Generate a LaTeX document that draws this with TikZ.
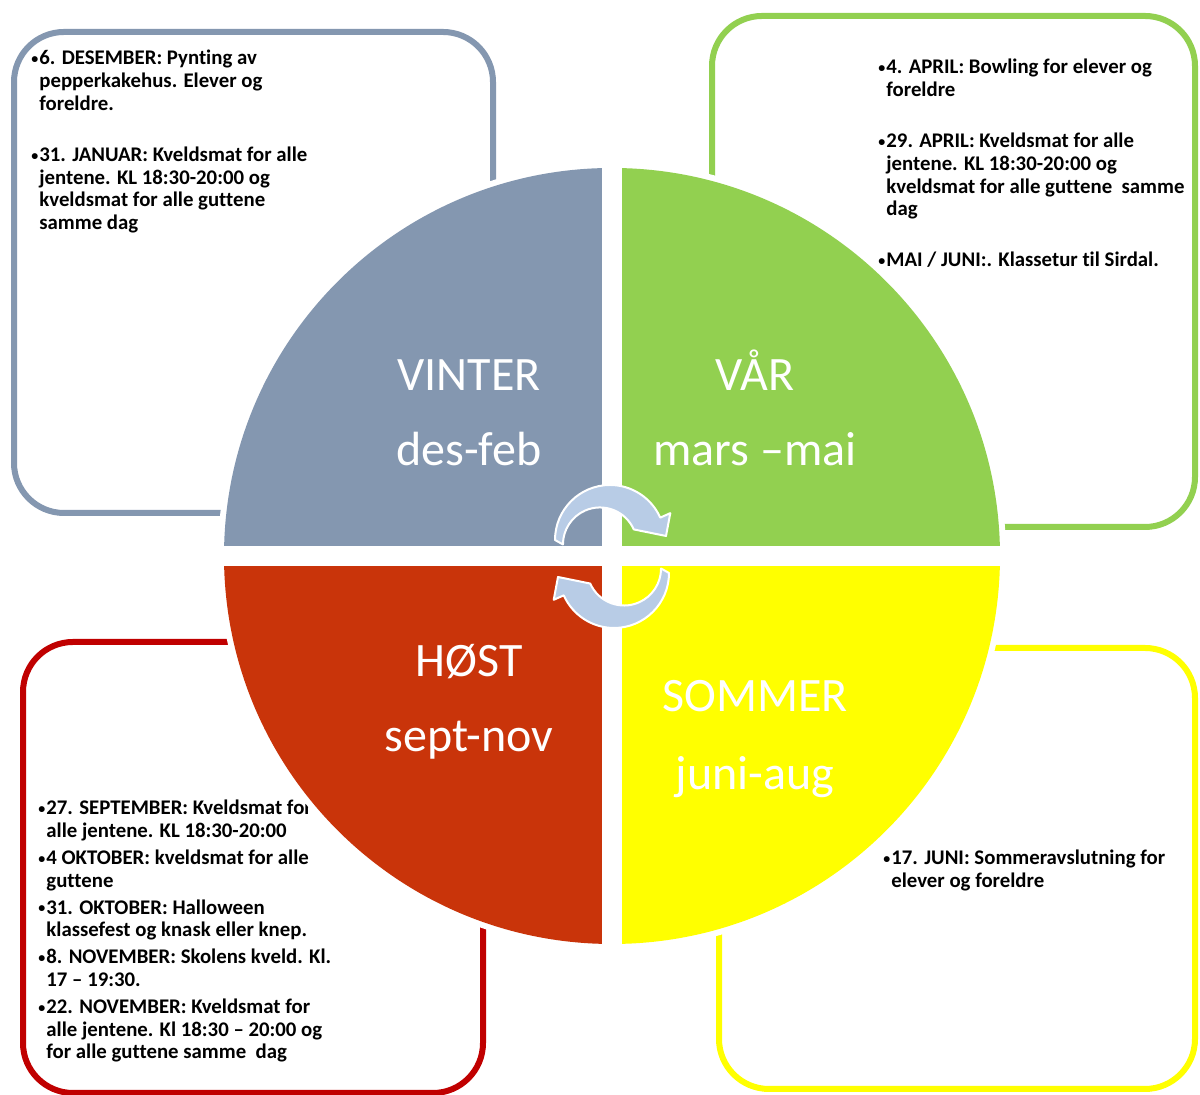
\documentclass[tikz,border=0pt]{standalone}
\usepackage{fontspec}
\setmainfont[Ligatures={TeX,NoCommon}]{Carlito}

\definecolor{vinterc}{RGB}{132,151,176}
\definecolor{vaarc}{RGB}{146,208,80}
\definecolor{hostc}{RGB}{201,52,10}
\definecolor{hostline}{RGB}{192,0,0}
\definecolor{sommerc}{RGB}{255,255,0}
\definecolor{pilc}{RGB}{184,204,230}

\newcommand\bul{\makebox[4pt][l]{\raisebox{0.6pt}{\fontsize{7}{8}\selectfont\textbullet}}}
\newcommand\inn{\hspace*{4pt}}

\tikzset{
  boks/.style={line width=3pt, rounded corners=25pt},
  tittel/.style={text=white, anchor=base, inner sep=0pt, font=\fontsize{24}{28}\selectfont},
  liste/.style={anchor=north west, inner sep=0pt, align=left, font=\fontsize{10.4}{11.4}\selectfont\bfseries},
  pil/.style={fill=pilc, draw=white, line width=1pt, line join=round},
}

\begin{document}
\begin{tikzpicture}[x=0.5pt, y=0.5pt]
            \useasboundingbox[fill=white] (0,0) rectangle (1200,1095);

            % boksene
            \draw[boks, vinterc] (14,582) rectangle (493,1063);
            \draw[boks, vaarc] (712,568) rectangle (1195,1079);
            \draw[boks, hostline] (23,2) rectangle (483,453);
            \draw[boks, sommerc] (719,6) rectangle (1195,447);

            % tekst i boksene
            \node[liste] (vinterTxt) at (31,1045) {\bul 6. DESEMBER: Pynting av\\
                \inn pepperkakehus. Elever og\\
                \inn foreldre.\\[14pt]
                \bul 31. JANUAR: Kveldsmat for alle\\
                \inn jentene. KL 18:30-20:00 og\\
                \inn kveldsmat for alle guttene\\
                \inn samme dag};
            \node[liste] (vaarTxt) at (878,1036) {\bul 4. APRIL: Bowling for elever og\\
                \inn foreldre\\[14pt]
                \bul 29. APRIL: Kveldsmat for alle\\
                \inn jentene. KL 18:30-20:00 og\\
                \inn kveldsmat for alle guttene\ \ samme\\
                \inn dag\\[14pt]
                \bul MAI / JUNI:. Klassetur til Sirdal.};
            \node[liste] (hostTxt) at (38,295) {\bul 27. SEPTEMBER: Kveldsmat for\\
                \inn alle jentene. KL 18:30-20:00\\[2pt]
                \bul 4 OKTOBER: kveldsmat for alle\\
                \inn guttene\\[2pt]
                \bul 31. OKTOBER: Halloween\\
                \inn klassefest og knask eller knep.\\[2pt]
                \bul 8. NOVEMBER: Skolens kveld. Kl.\\
                \inn 17 – 19:30.\\[2pt]
                \bul 22. NOVEMBER: Kveldsmat for\\
                \inn alle jentene. Kl 18:30 – 20:00 og\\
                \inn for alle guttene samme\ \ dag};
            \node[liste] (sommerTxt) at (883,245) {\bul 17. JUNI: Sommeravslutning for\\
                \inn elever og foreldre};

            % sirkelen
            \fill[white] (612,539) circle (394);
            \begin{scope}
                \clip (612,539) circle (388);
                \fill[vinterc] (0,549) rectangle (602,1095);
                \fill[vaarc] (622,549) rectangle (1200,1095);
                \fill[hostc] (0,0) rectangle (602,529);
                \fill[sommerc] (622,0) rectangle (1200,529);
            \end{scope}

            \node[tittel] (vinter) at (469,704) {VINTER};
            \node[tittel] (vinterMnd) at (469,629) {des-feb};
            \node[tittel] (vaar) at (755,704) {VÅR};
            \node[tittel] (vaarMnd) at (755,629) {mars –mai};
            \node[tittel] (host) at (469,418) {HØST};
            \node[tittel] (hostMnd) at (469,343) {sept-nov};
            \node[tittel] (sommer) at (755,383) {SOMMER};
            \node[tittel] (sommerMnd) at (755,305) {juni-aug};

            % pilene
            \begin{scope}[shift={(610,555)}]
                \filldraw[pil] (180:55) arc[start angle=180, end angle=24, radius=55]
                    -- (24:66) -- (56,4) -- (24:26)
                    arc[start angle=24, end angle=180, radius=37] -- cycle;
            \end{scope}
            \begin{scope}[shift={(614,522)}, rotate=180]
                \filldraw[pil] (180:55) arc[start angle=180, end angle=24, radius=55]
                    -- (24:66) -- (56,4) -- (24:26)
                    arc[start angle=24, end angle=180, radius=37] -- cycle;
            \end{scope}
\end{tikzpicture}
\end{document}
